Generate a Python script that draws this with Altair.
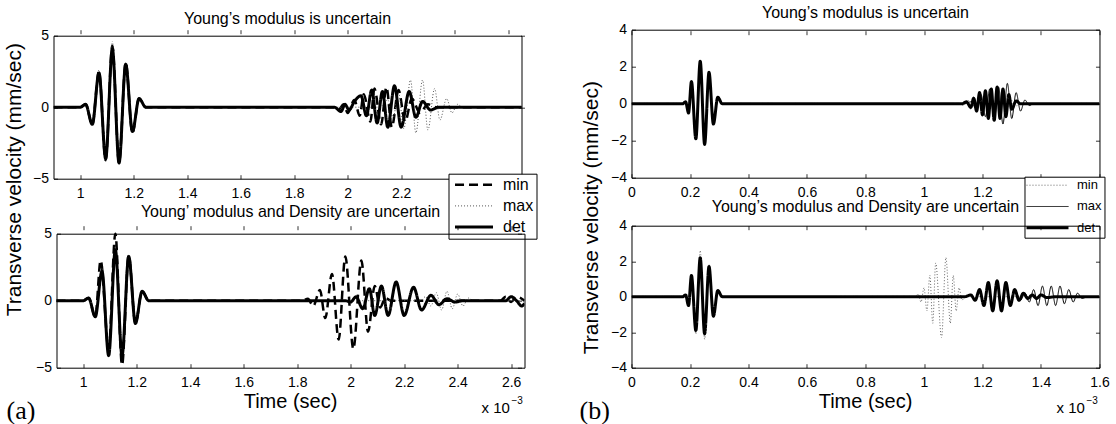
import altair as alt
import pandas as pd

FONT = "Liberation Sans"
SERIF = "Liberation Serif"

# ---------------- text ----------------
TITLE_TOP_A = "Young\u2019s modulus is uncertain"
TITLE_BOT_A = "Young\u2019 modulus and Density are uncertain"
TITLE_TOP_B = "Young\u2019s modulus is uncertain"
TITLE_BOT_B = "Young\u2019s modulus and Density are uncertain"
Y_TITLE = "Transverse velocity (mm/sec)"
X_TITLE = "Time (sec)"
PANEL_A = "(a)"
PANEL_B = "(b)"
EXP_BASE = "x 10"
EXP_POW = "\u22123"
SERIES = ["min", "max", "det"]

# ---------------- axis ticks ----------------
A_XDOM = [0.9, 2.65]
A_XTICKS = [1.0, 1.2, 1.4, 1.6, 1.8, 2.0, 2.2, 2.4, 2.6]
A_YDOM = [-5, 5]
A_YTICKS = [-5, 0, 5]
B_XDOM = [0.0, 1.6]
B_XTICKS = [0.0, 0.2, 0.4, 0.6, 0.8, 1.0, 1.2, 1.4, 1.6]
B_YDOM = [-4, 4]
B_YTICKS = [-4, -2, 0, 2, 4]

# ---------------- data: extrema (time in 1e-3 s) ----------------
# (a) top : Young's modulus uncertain
a1_min_t = [0.9, 1.0, 1.02, 1.045, 1.07, 1.095, 1.12, 1.145, 1.17, 1.195, 1.22, 1.245, 1.95,
            1.965, 1.985, 2.0, 2.025, 2.045, 2.06, 2.085, 2.1, 2.125, 2.145, 2.165, 2.19,
            2.215, 2.24, 2.27, 2.3, 2.33, 2.65]
a1_min_v = [0, 0, 0.2, -1.2, 2.5, -3.7, 4.3, -3.9, 3.1, -1.8, 0.6, 0, 0,
            -0.2, 0.2, -0.4, 0.5, -0.6, 0.9, -1.0, 1.3, -1.2, 1.4, -1.4, 1.2,
            -1.0, 0.6, -0.4, 0.2, 0, 0]
a1_max_t = [0.9, 1.0, 1.02, 1.045, 1.07, 1.095, 1.12, 1.145, 1.17, 1.195, 1.22, 1.245, 2.12,
            2.15, 2.17, 2.19, 2.21, 2.235, 2.255, 2.28, 2.3, 2.325, 2.345, 2.37, 2.39,
            2.41, 2.43, 2.65]
a1_max_v = [0, 0, 0.2, -1.2, 2.6, -3.8, 4.6, -4.0, 3.1, -1.8, 0.6, 0, 0,
            0.5, -0.7, 1.0, -1.5, 1.9, -1.8, 1.9, -1.6, 1.3, -0.9, 0.6, -0.4,
            0.2, 0, 0]
a1_det_t = [0.9, 1.0, 1.02, 1.045, 1.07, 1.095, 1.12, 1.145, 1.17, 1.195, 1.22, 1.245, 1.95,
            1.975, 1.99, 2.005, 2.025, 2.05, 2.07, 2.09, 2.11, 2.13, 2.15, 2.175, 2.2,
            2.23, 2.255, 2.28, 2.31, 2.34, 2.65]
a1_det_v = [0, 0, 0.2, -1.2, 2.4, -3.6, 4.1, -3.9, 3.0, -1.7, 0.6, 0, 0,
            -0.3, 0.2, -0.2, 0.4, 0.8, -0.6, 1.2, -1.1, 1.1, -1.4, 1.5, -1.4,
            1.1, -0.7, 0.4, -0.2, 0, 0]

# (a) bottom : Young's modulus and density uncertain
a2_min_t = [0.9, 1.0, 1.02, 1.045, 1.065, 1.095, 1.12, 1.145, 1.17, 1.195, 1.22, 1.245, 1.82,
            1.84, 1.86, 1.885, 1.905, 1.93, 1.955, 1.98, 2.01, 2.04, 2.065, 2.09, 2.11,
            2.13, 2.15, 2.56, 2.58, 2.6, 2.62, 2.65]
a2_min_v = [0, 0, 0.2, -1.2, 3.0, -3.6, 5.0, -4.8, 3.4, -1.7, 0.7, 0, 0,
            0.15, -0.4, 0.8, -1.3, 2.0, -2.9, 3.3, -3.6, 3.0, -2.3, 1.1, -0.5,
            0.2, 0, 0, 0.3, -0.1, 0.3, 0]
a2_max_t = [0.9, 1.0, 1.02, 1.045, 1.07, 1.095, 1.12, 1.145, 1.17, 1.195, 1.22, 1.245, 2.26,
            2.28, 2.3, 2.32, 2.34, 2.36, 2.38, 2.4, 2.42, 2.44, 2.46, 2.65]
a2_max_v = [0, 0, 0.2, -1.2, 2.4, -4.2, 4.0, -4.2, 3.4, -1.8, 0.7, 0, 0,
            0.3, -0.4, 0.6, -0.7, 0.7, -0.6, 0.5, -0.4, 0.2, 0, 0]
a2_det_t = [0.9, 1.0, 1.02, 1.045, 1.07, 1.095, 1.12, 1.145, 1.17, 1.195, 1.22, 1.245, 1.98,
            2.0, 2.02, 2.045, 2.07, 2.09, 2.115, 2.14, 2.17, 2.2, 2.235, 2.265, 2.3,
            2.33, 2.36, 2.39, 2.42, 2.58, 2.6, 2.62, 2.64, 2.65]
a2_det_v = [0, 0, 0.2, -1.2, 2.2, -4.1, 3.8, -4.1, 3.3, -1.7, 0.7, 0, 0,
            -0.1, 0.3, -0.6, 0.9, -1.1, 1.1, -1.1, 1.4, -1.1, 1.0, -0.7, 0.4,
            -0.3, 0.15, -0.1, 0, 0, 0.3, 0, -0.4, -0.2]

# (b) top : Young's modulus uncertain
b1_min_t = [0.0, 0.175, 0.185, 0.195, 0.205, 0.22, 0.235, 0.25, 0.265, 0.28, 0.295, 0.31, 1.12,
            1.135, 1.15, 1.16, 1.17, 1.18, 1.19, 1.2, 1.21, 1.22, 1.23, 1.24, 1.25,
            1.26, 1.27, 1.28, 1.295, 1.31, 1.33, 1.6]
b1_min_v = [0, 0, 0.1, -0.5, 1.2, -1.9, 2.3, -2.2, 1.7, -1.1, 0.35, 0, 0,
            -0.1, 0.2, -0.3, 0.4, -0.5, 0.7, -0.7, 0.8, -0.8, 0.9, -0.8, 0.8,
            -0.7, 0.6, -0.5, 0.3, -0.15, 0, 0]
b1_max_t = [0.0, 0.175, 0.185, 0.195, 0.205, 0.22, 0.235, 0.25, 0.265, 0.28, 0.295, 0.31, 1.14,
            1.16, 1.18, 1.195, 1.21, 1.225, 1.24, 1.255, 1.27, 1.285, 1.3, 1.315, 1.33,
            1.345, 1.36, 1.375, 1.6]
b1_max_v = [0, 0, 0.1, -0.5, 1.2, -1.9, 2.3, -2.2, 1.7, -1.1, 0.35, 0, 0,
            0.1, -0.3, 0.5, -0.7, 0.8, -0.9, 0.9, -1.1, 1.1, -0.8, 0.6, -0.4,
            0.2, -0.1, 0, 0]
b1_det_t = [0.0, 0.175, 0.185, 0.195, 0.205, 0.22, 0.235, 0.25, 0.265, 0.28, 0.295, 0.31, 1.13,
            1.145, 1.16, 1.17, 1.18, 1.19, 1.2, 1.21, 1.22, 1.23, 1.24, 1.25, 1.26,
            1.27, 1.28, 1.29, 1.3, 1.315, 1.33, 1.6]
b1_det_v = [0, 0, 0.1, -0.5, 1.2, -1.9, 2.3, -2.2, 1.7, -1.1, 0.35, 0, 0,
            0.1, -0.2, 0.3, -0.4, 0.6, -0.6, 0.7, -0.8, 0.8, -0.9, 0.9, -0.8,
            0.8, -0.7, 0.5, -0.3, 0.15, 0, 0]

# (b) bottom : Young's modulus and density uncertain
b2_min_t = [0.0, 0.175, 0.185, 0.195, 0.205, 0.22, 0.235, 0.25, 0.265, 0.28, 0.295, 0.31, 0.97,
            0.98, 0.99, 1.0, 1.01, 1.02, 1.03, 1.04, 1.06, 1.075, 1.09, 1.1, 1.11,
            1.12, 1.13, 1.14, 1.6]
b2_min_v = [0, 0, 0.1, -0.5, 1.3, -2.1, 2.6, -2.4, 1.8, -1.2, 0.35, 0, 0,
            0.15, -0.3, 0.5, -0.8, 1.2, -1.5, 1.9, -2.3, 2.2, -1.5, 1.2, -0.8,
            0.5, -0.2, 0, 0]
b2_max_t = [0.0, 0.175, 0.185, 0.195, 0.205, 0.22, 0.235, 0.25, 0.265, 0.28, 0.295, 0.31, 1.14,
            1.16, 1.175, 1.19, 1.205, 1.22, 1.235, 1.25, 1.265, 1.28, 1.295, 1.31, 1.33,
            1.345, 1.36, 1.375, 1.39, 1.405, 1.42, 1.435, 1.45, 1.465, 1.48, 1.495, 1.51,
            1.525, 1.54, 1.56, 1.6]
b2_max_v = [0, 0, 0.1, -0.5, 1.2, -1.9, 2.2, -2.1, 1.7, -1.1, 0.35, 0, 0,
            0.1, -0.2, 0.4, -0.5, 0.8, -0.8, 0.9, -0.8, 0.8, -0.5, 0.4, -0.2,
            0.2, -0.3, 0.4, -0.5, 0.6, -0.5, 0.6, -0.5, 0.6, -0.4, 0.4, -0.3,
            0.2, -0.1, 0, 0]
b2_det_t = [0.0, 0.175, 0.185, 0.195, 0.205, 0.22, 0.235, 0.25, 0.265, 0.28, 0.295, 0.31, 1.14,
            1.16, 1.175, 1.19, 1.205, 1.22, 1.235, 1.25, 1.265, 1.28, 1.295, 1.31, 1.325,
            1.34, 1.355, 1.37, 1.385, 1.4, 1.42, 1.45, 1.6]
b2_det_v = [0, 0, 0.1, -0.5, 1.2, -1.9, 2.2, -2.1, 1.7, -1.1, 0.35, 0, 0,
            0.1, -0.2, 0.4, -0.5, 0.8, -0.8, 0.9, -0.8, 0.8, -0.5, 0.4, -0.2,
            0.2, -0.1, 0.1, -0.1, 0.1, -0.05, 0, 0]

# ---------------- styles ----------------
A_STYLE = {"color": ["#000000", "#555555", "#000000"],
           "dash": [[9, 5], [1, 2], [1, 0]],
           "width": [2.5, 1.0, 3.0]}
B_STYLE = {"color": ["#666666", "#000000", "#000000"],
           "dash": [[1, 2], [1, 0], [1, 0]],
           "width": [1.0, 1.0, 3.0]}


def make_df(pairs):
    rows = []
    for name, ts, vs in pairs:
        for t, v in zip(ts, vs):
            rows.append({"series": name, "t": t, "v": v})
    return pd.DataFrame(rows)


def box_axis(orient, values, labels, offset, hide_from=None):
    pad = 8 if orient in ("bottom", "top") else 5
    kw = dict(orient=orient, values=values, labels=labels, ticks=False,
              domain=True, domainColor="black", domainWidth=1, offset=offset,
              grid=True, gridDash=[4, 3000], gridColor="black", gridOpacity=1,
              gridWidth=0.8, labelFont=FONT, labelFontSize=14, labelColor="black",
              labelPadding=pad, format="~g", labelFlush=False, labelOverlap=False,
              title=None)
    if hide_from is not None:
        # labels lying under the legend box are not shown
        kw["labelExpr"] = "datum.value >= %s ? '' : datum.label" % hide_from
    return alt.Axis(**kw)


def legend_spec(x, y, path, size, font_size, row_pad, pad, sym_off, label_off, widths):
    width_expr = ("(datum.value == 'min' ? %s : (datum.value == 'max' ? %s : %s))"
                  % tuple(widths))
    return alt.Legend(title=None, orient="none", legendX=x, legendY=y,
                      symbolType=path, symbolSize=size, symbolOffset=sym_off,
                      rowPadding=row_pad, padding=pad, labelOffset=label_off,
                      labelFont=FONT, labelFontSize=font_size, labelColor="black",
                      fillColor="white", strokeColor="black", zindex=5,
                      symbolStrokeWidth=alt.ExprRef(width_expr))


def panel(df, xdom, xticks, ydom, yticks, style, w, h, xrange, yrange, offs,
          legend=None, texts=(), hide_from=None):
    xs = alt.Scale(domain=xdom, range=xrange, nice=False, zero=False)
    ys = alt.Scale(domain=ydom, range=yrange, nice=False, zero=False)
    cs = alt.Scale(domain=SERIES, range=style["color"])
    ds = alt.Scale(domain=SERIES, range=style["dash"])
    layers = []
    for i, name in enumerate(SERIES):
        if i == 0:
            xa = box_axis("bottom", xticks, True, offs["bottom"], hide_from)
            ya = box_axis("left", yticks, True, offs["left"])
        elif i == 1:
            xa = box_axis("top", xticks, False, offs["top"])
            ya = box_axis("right", yticks, False, offs["right"])
        else:
            xa = None
            ya = None
        layers.append(
            alt.Chart(df).transform_filter(alt.datum.series == name)
            .mark_line(interpolate="monotone", clip=True, strokeWidth=style["width"][i])
            .encode(
                x=alt.X("t:Q", scale=xs, axis=xa),
                y=alt.Y("v:Q", scale=ys, axis=ya),
                color=alt.Color("series:N", scale=cs, legend=legend),
                strokeDash=alt.StrokeDash("series:N", scale=ds, legend=legend),
            )
        )
    for (txt, x, y, size, font, angle, align) in texts:
        layers.append(
            alt.Chart(pd.DataFrame({"label": [txt]}))
            .mark_text(font=font, fontSize=size, angle=angle, align=align,
                       baseline="middle", color="black")
            .encode(x=alt.value(x), y=alt.value(y), text="label:N")
        )
    return (
        alt.layer(*layers)
        .resolve_axis(x="independent", y="independent")
        .properties(width=w, height=h, view=alt.ViewBackground(stroke="transparent"))
    )


df_a1 = make_df([("min", a1_min_t, a1_min_v), ("max", a1_max_t, a1_max_v), ("det", a1_det_t, a1_det_v)])
df_a2 = make_df([("min", a2_min_t, a2_min_v), ("max", a2_max_t, a2_max_v), ("det", a2_det_t, a2_det_v)])
df_b1 = make_df([("min", b1_min_t, b1_min_v), ("max", b1_max_t, b1_max_v), ("det", b1_det_t, b1_det_v)])
df_b2 = make_df([("min", b2_min_t, b2_min_v), ("max", b2_max_t, b2_max_v), ("det", b2_det_t, b2_det_v)])

a_top = panel(df_a1, A_XDOM, A_XTICKS, A_YDOM, A_YTICKS, A_STYLE, 471, 149,
              [0, 468], [149, 6], {"bottom": 0, "left": 0, "top": -6, "right": -3},
              legend=legend_spec(395, 144, "M-2.92,0H2.92", 169, 16, 5.2, 3, 14.5, 21,
                                 A_STYLE["width"]),
              texts=[(TITLE_TOP_A, 234, -10.7, 16, FONT, 0, "center"),
                     (Y_TITLE, -39, 150, 21, FONT, 270, "center")],
              hide_from=2.3)
a_bot = panel(df_a2, A_XDOM, A_XTICKS, A_YDOM, A_YTICKS, A_STYLE, 471, 142,
              [3, 471], [142, 8], {"bottom": 0, "left": -3, "top": -8, "right": 0},
              texts=[(TITLE_BOT_A, 237, -13.3, 16, FONT, 0, "center"),
                     (X_TITLE, 237, 176, 20, FONT, 0, "center"),
                     (PANEL_A, -47, 185, 26, SERIF, 0, "left"),
                     (EXP_BASE, 428, 182, 15, FONT, 0, "left"),
                     (EXP_POW, 458, 175.7, 10, FONT, 0, "left")])
b_top = panel(df_b1, B_XDOM, B_XTICKS, B_YDOM, B_YTICKS, B_STYLE, 468, 149,
              [0, 468], [148, 0], {"bottom": -1, "left": 0, "top": 0, "right": 0},
              legend=legend_spec(393, 147, "M-4.2,0H4.2", 100, 13, 7.3, 2, 14.5, 23,
                                 B_STYLE["width"]),
              texts=[(TITLE_TOP_B, 234, -16.3, 16, FONT, 0, "center"),
                     (Y_TITLE, -39.5, 188, 21, FONT, 270, "center")],
              hide_from=1.3)
b_bot = panel(df_b2, B_XDOM, B_XTICKS, B_YDOM, B_YTICKS, B_STYLE, 468, 142,
              [0, 468], [142, 0], {"bottom": 0, "left": 0, "top": 0, "right": 0},
              texts=[(TITLE_BOT_B, 234, -18.3, 16, FONT, 0, "center"),
                     (X_TITLE, 234, 176, 20, FONT, 0, "center"),
                     (PANEL_B, -52, 185, 26, SERIF, 0, "left"),
                     (EXP_BASE, 425, 182, 15, FONT, 0, "left"),
                     (EXP_POW, 455, 175.7, 10, FONT, 0, "left")])

RES = dict(color="independent", strokeDash="independent")

chart = (
    alt.concat(a_top, b_top, a_bot, b_bot, columns=2, spacing={"column": 107, "row": 47},
               bounds="flush")
    .resolve_scale(**RES)
    .resolve_legend(**RES)
    .properties(padding={"left": 2.5, "top": 4.7, "right": 5, "bottom": 2}, background="white")
    .configure(font=FONT)
)

chart.save("out.html", embed_options={"renderer": "svg", "actions": False})
